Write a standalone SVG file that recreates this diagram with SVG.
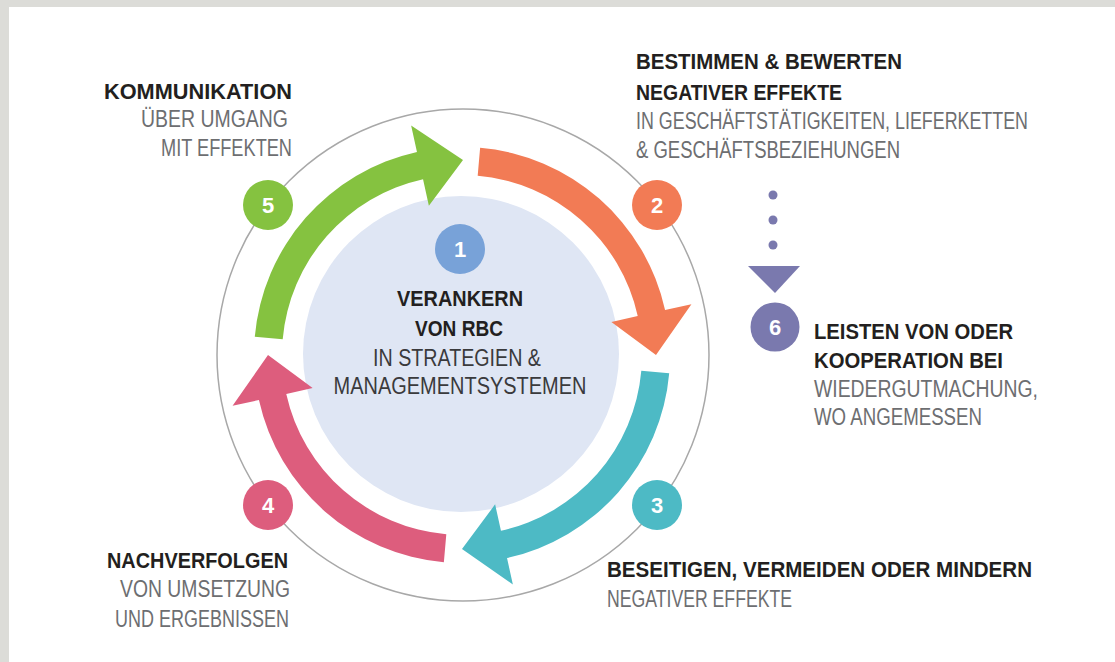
<svg xmlns="http://www.w3.org/2000/svg" width="1115" height="662" viewBox="0 0 1115 662">
<style>
.b{font-family:"Liberation Sans",Arial,sans-serif;font-weight:bold;font-size:22.5px;fill:#231f20}
.r{font-family:"Liberation Sans",Arial,sans-serif;font-size:23px;fill:#6d6e71}
.c{fill:#3a3a3c}
.n{font-family:"Liberation Sans",Arial,sans-serif;font-weight:bold;font-size:22px;fill:#ffffff;text-anchor:middle}
.e{text-anchor:end}
.m{text-anchor:middle}
</style>
<rect x="0" y="0" width="1115" height="662" fill="#dcdcd8"/>
<rect x="9" y="7" width="1106" height="655" fill="#ffffff"/>
<circle cx="463" cy="355" r="246" fill="none" stroke="#a8a8a8" stroke-width="1.5"/>
<g id="center">
<circle cx="461" cy="354" r="158" fill="#dfe6f4"/>
<circle cx="460" cy="249" r="25" fill="#78a2d8"/>
<text class="n" x="460" y="257">1</text>
<text class="b m" x="460" y="306" textLength="126" lengthAdjust="spacingAndGlyphs">VERANKERN</text>
<text class="b m" x="459" y="336" textLength="88" lengthAdjust="spacingAndGlyphs">VON RBC</text>
<text class="r m c" x="457" y="366" textLength="168" lengthAdjust="spacingAndGlyphs">IN STRATEGIEN &amp;</text>
<text class="r m c" x="460" y="394" textLength="253" lengthAdjust="spacingAndGlyphs">MANAGEMENTSYSTEMEN</text>
</g>
<g id="connectors">
<path d="M480.13,147.79 A208,208 0 0 1 665.07,309.98 L691.43,304.14 L656,355 L611.37,321.88 L637.73,316.04 A180,180 0 0 0 477.69,175.69 Z" fill="#f27b55"/>
<path d="M669.21,373.13 A208,208 0 0 1 507.02,558.07 L512.86,584.43 L462,549 L495.12,504.37 L500.96,530.73 A180,180 0 0 0 641.31,370.69 Z" fill="#4dbac5"/>
<path d="M443.87,562.21 A208,208 0 0 1 258.93,400.02 L232.57,405.86 L268,355 L312.63,388.12 L286.27,393.96 A180,180 0 0 0 446.31,534.31 Z" fill="#dd5d7d"/>
<path d="M254.79,336.87 A208,208 0 0 1 416.98,151.93 L411.14,125.57 L463,160 L428.88,205.63 L423.04,179.27 A180,180 0 0 0 282.69,339.31 Z" fill="#85c240"/>
<g fill="#7a79ae">
<circle cx="773" cy="195" r="4.5"/>
<circle cx="773" cy="220" r="4.5"/>
<circle cx="773" cy="245" r="4.5"/>
<polygon points="748,266 800,266 775,293"/>
</g>
</g>
<g id="step5">
<circle cx="268" cy="205" r="25" fill="#85c240"/>
<text class="n" x="268" y="213">5</text>
<text class="b e" x="292" y="99" textLength="188" lengthAdjust="spacingAndGlyphs">KOMMUNIKATION</text>
<text class="r e" x="288" y="127" textLength="147" lengthAdjust="spacingAndGlyphs">ÜBER UMGANG</text>
<text class="r e" x="292" y="156" textLength="131" lengthAdjust="spacingAndGlyphs">MIT EFFEKTEN</text>
</g>
<g id="step2">
<circle cx="657" cy="205" r="25" fill="#f27b55"/>
<text class="n" x="657" y="213">2</text>
<text class="b" x="636" y="69" textLength="266" lengthAdjust="spacingAndGlyphs">BESTIMMEN &amp; BEWERTEN</text>
<text class="b" x="636" y="100" textLength="206" lengthAdjust="spacingAndGlyphs">NEGATIVER EFFEKTE</text>
<text class="r" x="636" y="129" textLength="392" lengthAdjust="spacingAndGlyphs">IN GESCHÄFTSTÄTIGKEITEN, LIEFERKETTEN</text>
<text class="r" x="636" y="158" textLength="264" lengthAdjust="spacingAndGlyphs">&amp; GESCHÄFTSBEZIEHUNGEN</text>
</g>
<g id="step3">
<circle cx="657" cy="505" r="25" fill="#4dbac5"/>
<text class="n" x="657" y="513">3</text>
<text class="b" x="607" y="577" textLength="425" lengthAdjust="spacingAndGlyphs">BESEITIGEN, VERMEIDEN ODER MINDERN</text>
<text class="r" x="607" y="607" textLength="185" lengthAdjust="spacingAndGlyphs">NEGATIVER EFFEKTE</text>
</g>
<g id="step4">
<circle cx="268" cy="505" r="25" fill="#dd5d7d"/>
<text class="n" x="268" y="513">4</text>
<text class="b e" x="288" y="568" textLength="181" lengthAdjust="spacingAndGlyphs">NACHVERFOLGEN</text>
<text class="r e" x="290" y="597" textLength="170" lengthAdjust="spacingAndGlyphs">VON UMSETZUNG</text>
<text class="r e" x="289" y="627" textLength="174" lengthAdjust="spacingAndGlyphs">UND ERGEBNISSEN</text>
</g>
<g id="step6">
<circle cx="775" cy="327" r="24.5" fill="#7a79ae"/>
<text class="n" x="775" y="335">6</text>
<text class="b" x="814" y="339" textLength="199" lengthAdjust="spacingAndGlyphs">LEISTEN VON ODER</text>
<text class="b" x="814" y="368" textLength="189" lengthAdjust="spacingAndGlyphs">KOOPERATION BEI</text>
<text class="r" x="814" y="397" textLength="224" lengthAdjust="spacingAndGlyphs">WIEDERGUTMACHUNG,</text>
<text class="r" x="814" y="425" textLength="168" lengthAdjust="spacingAndGlyphs">WO ANGEMESSEN</text>
</g>
</svg>
